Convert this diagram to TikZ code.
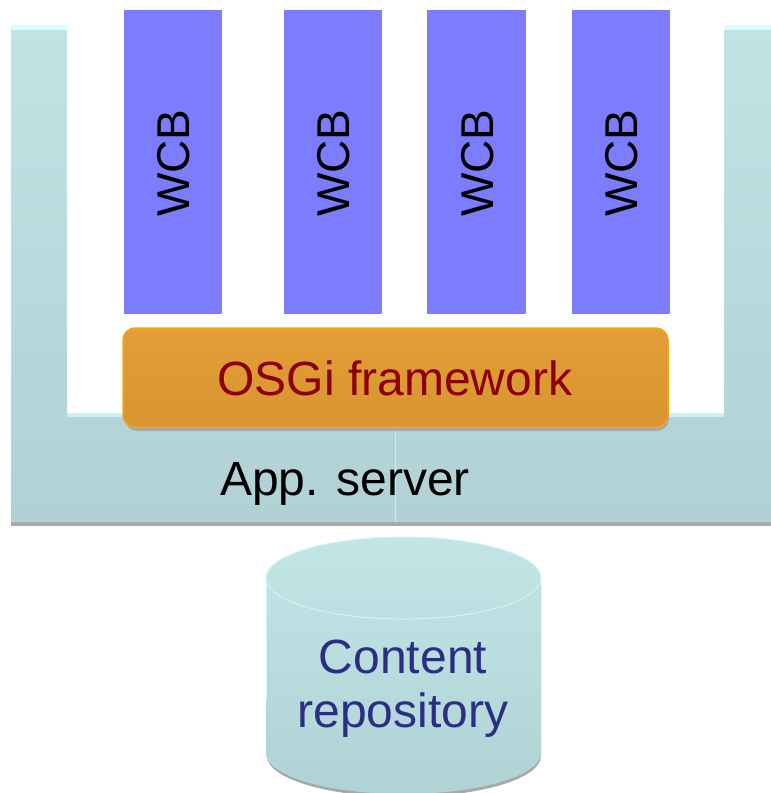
\documentclass[tikz,border=0pt]{standalone}
\usepackage{fontspec}
\setmainfont{Liberation Sans}
\usetikzlibrary{shapes.geometric}

\definecolor{srvtop}{RGB}{192,228,228}
\definecolor{srvbot}{RGB}{177,209,213}
\definecolor{srvedge}{RGB}{216,255,255}
\definecolor{srvinner}{RGB}{206,240,242}
\definecolor{shadowgrey}{RGB}{168,168,168}
\definecolor{wcbblue}{RGB}{124,124,255}
\definecolor{osgifill}{RGB}{227,158,54}
\definecolor{osgibot}{RGB}{216,148,48}
\definecolor{osgiedge}{RGB}{247,162,27}
\definecolor{osgitext}{RGB}{139,0,0}
\definecolor{repotext}{RGB}{43,46,131}
\definecolor{cyltop}{RGB}{194,230,230}
\definecolor{cylbot}{RGB}{176,210,213}
\definecolor{cylrim}{RGB}{212,242,244}

\tikzset{
  bigtext/.style={font=\fontsize{48}{56}\selectfont, inner sep=0pt},
  wcbtext/.style={font=\fontsize{46}{54}\selectfont, inner sep=0pt, rotate=90, text=black},
}

\begin{document}
\begin{tikzpicture}[x=1pt,y=-1pt]
\useasboundingbox (0,0) rectangle (771,793);

% application server: U-shaped base
\fill[shadowgrey] (11,522) rectangle (771,526);
\shade[top color=srvtop, bottom color=srvbot]
  (11,25) -- (67,25) -- (67,413) -- (724,413) -- (724,25) -- (771,25)
  -- (771,522) -- (11,522) -- cycle;
\fill[srvedge] (11,25) rectangle (67,30);
\fill[srvedge] (724,25) rectangle (771,30);
\fill[srvinner] (67,413) rectangle (724,417);
\draw[srvtop!80!white, line width=0.6pt] (395,417) -- (395,522);
\node[bigtext, anchor=base] (server) at (345,495) {App. server};

% web content bundles
\foreach \i/\xa/\xb in {1/124/222, 2/284/382, 3/427/526, 4/572/670} {
  \fill[wcbblue] (\xa,10) rectangle (\xb,314);
  \node[wcbtext] (wcb\i) at ({(\xa+\xb)/2+1},163) {WCB};
}

% OSGi framework layer
\fill[shadowgrey, rounded corners=12pt] (125,331) rectangle (669,431);
\shade[top color=osgifill, bottom color=osgibot, rounded corners=12pt]
  (123,328) rectangle (668,427);
\draw[osgiedge, line width=1.5pt, rounded corners=12pt] (123,328) rectangle (668,427);
\node[bigtext, anchor=base, text=osgitext] (osgi) at (395,395) {OSGi framework};

% content repository cylinder
\fill[shadowgrey] (267,581) -- (267,756)
  arc[start angle=180, end angle=0, x radius=137, y radius=41] -- (541,581) -- cycle;
\shade[top color=cyltop, bottom color=cylbot]
  (266,578) -- (266,753)
  arc[start angle=180, end angle=0, x radius=137.5, y radius=41]
  -- (541,578)
  arc[start angle=0, end angle=-180, x radius=137.5, y radius=41] -- cycle;
\draw[cylrim, line width=1pt] (403.5,578) ellipse[x radius=137.5, y radius=41];
\draw[cylrim, line width=1pt] (266,578) -- (266,700);
\node[bigtext, anchor=base, text=repotext] (content) at (403,673) {Content};
\node[bigtext, anchor=base, text=repotext] (repo) at (403,727) {repository};
\end{tikzpicture}
\end{document}
